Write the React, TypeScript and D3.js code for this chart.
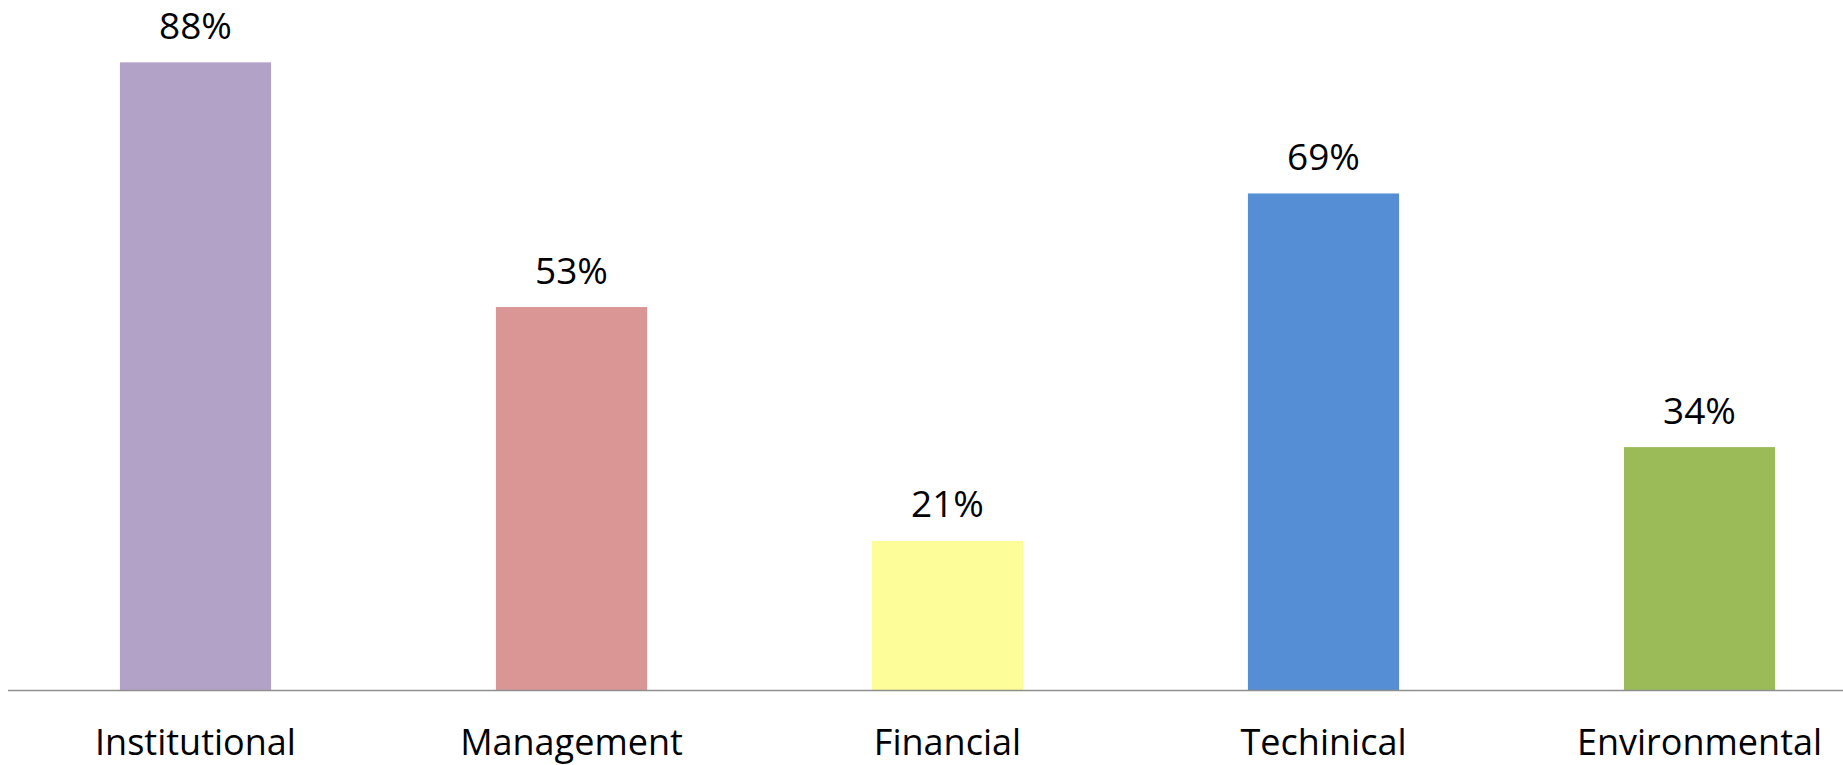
import { useRef, useEffect } from "react";
import * as d3 from "d3";

const categories = ["Institutional", "Management", "Financial", "Techinical", "Environmental"];
const values = [87.6, 53.45, 20.8, 69.3, 33.9];
const colors = ["#B3A2C7", "#D99694", "#FDFD99", "#558ED5", "#9BBB59"];

const width = 1843;
const height = 765;

export default function App() {
  const svgRef = useRef<SVGSVGElement>(null);

  useEffect(() => {
    const svg = d3.select(svgRef.current);
    svg.selectAll("*").remove();

    const baseY = 690;
    const x = d3
      .scaleBand<string>()
      .domain(categories)
      .range([7.5, 1887.5])
      .paddingInner(0.598)
      .paddingOuter(0.299);
    const y = d3.scaleLinear().domain([0, 100]).range([baseY, baseY - 716.5]);

    const font = "'Open Sans', 'Noto Sans', sans-serif";

    svg
      .append("g")
      .selectAll("rect")
      .data(values)
      .join("rect")
      .attr("x", (_, i) => x(categories[i])!)
      .attr("y", (d) => y(d))
      .attr("width", x.bandwidth())
      .attr("height", (d) => baseY - y(d))
      .attr("fill", (_, i) => colors[i]);

    // axis baseline
    svg
      .append("line")
      .attr("x1", 8)
      .attr("x2", width)
      .attr("y1", baseY + 0.5)
      .attr("y2", baseY + 0.5)
      .attr("stroke", "#8f8f8f")
      .attr("stroke-width", 1.6);

    svg
      .append("g")
      .selectAll("text")
      .data(values)
      .join("text")
      .attr("x", (_, i) => x(categories[i])! + x.bandwidth() / 2)
      .attr("y", (d) => y(d) - 23.5)
      .attr("text-anchor", "middle")
      .attr("font-family", font)
      .attr("font-size", 37)
      .attr("fill", "#000")
      .text((d) => `${Math.round(d)}%`);

    svg
      .append("g")
      .selectAll("text")
      .data(categories)
      .join("text")
      .attr("x", (d) => x(d)! + x.bandwidth() / 2)
      .attr("y", 755)
      .attr("text-anchor", "middle")
      .attr("font-family", font)
      .attr("font-size", 36)
      .attr("fill", "#000")
      .text((d) => d);
  }, []);

  return (
    <svg
      ref={svgRef}
      width={width}
      height={height}
      style={{ position: "absolute", left: 0, top: 0, background: "#fff", display: "block" }}
    ></svg>
  );
}
